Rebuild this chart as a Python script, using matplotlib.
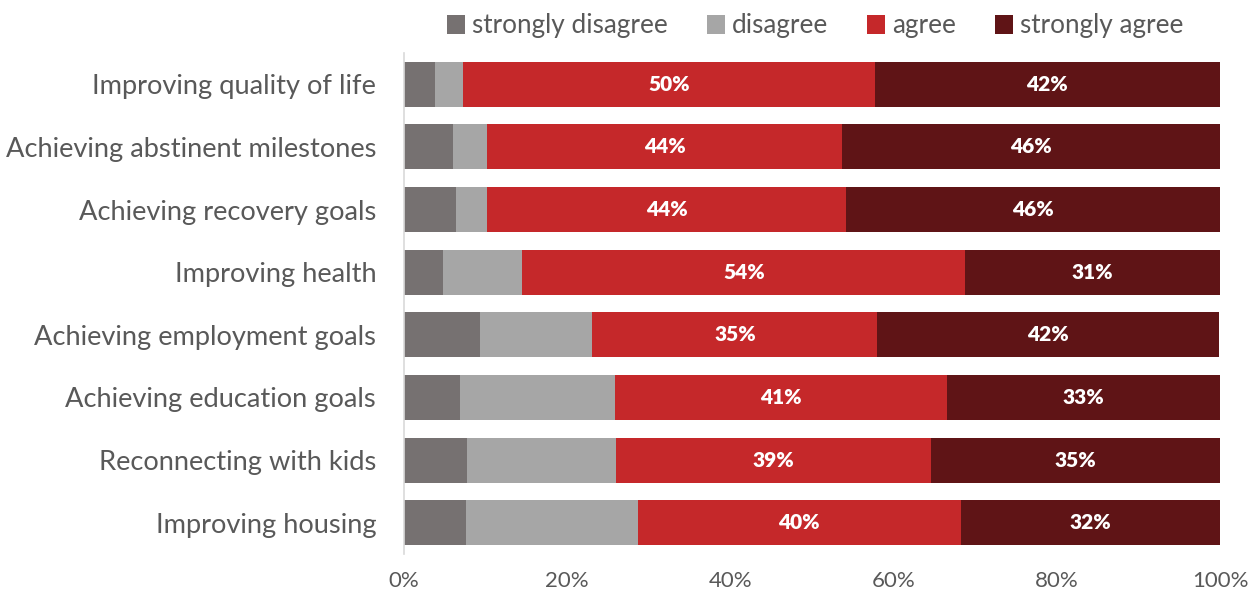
import matplotlib
matplotlib.use("Agg")
import matplotlib.pyplot as plt
import numpy as np

categories = ["Improving quality of life", "Achieving abstinent milestones",
              "Achieving recovery goals", "Improving health",
              "Achieving employment goals", "Achieving education goals",
              "Reconnecting with kids", "Improving housing"]
series_names = ["strongly disagree", "disagree", "agree", "strongly agree"]
strongly_disagree = [3.8, 6.0, 6.4, 4.8, 9.3, 6.9, 7.7, 7.6]
disagree = [3.4, 4.2, 3.8, 9.7, 13.8, 18.9, 18.3, 21.1]
agree = [50.5, 43.5, 44.0, 54.3, 34.9, 40.8, 38.6, 39.5]
strongly_agree = [42.3, 46.3, 45.8, 31.2, 41.9, 33.5, 35.4, 31.9]
agree_labels = ["50%", "44%", "44%", "54%", "35%", "41%", "39%", "40%"]
sa_labels = ["42%", "46%", "46%", "31%", "42%", "33%", "35%", "32%"]
tick_labels = ["0%", "20%", "40%", "60%", "80%", "100%"]

colors = ["#767171", "#A6A6A6", "#C5282A", "#5F1416"]
text_color = "#595959"
plt.rcParams['font.family'] = ['Lato', 'DejaVu Sans']

fig = plt.figure(figsize=(12.49, 5.94), dpi=100)
ax = fig.add_axes([404/1249, 1-554/594, (1220-404)/1249, (554-53)/594])

y = np.arange(len(categories))
data = [strongly_disagree, disagree, agree, strongly_agree]
left = np.zeros(len(categories))
bars = []
for vals, c, name in zip(data, colors, series_names):
    b = ax.barh(y, vals, left=left, color=c, height=0.72, label=name)
    bars.append(b)
    left = left + np.array(vals)

ax.bar_label(bars[2], labels=agree_labels, label_type='center', color='white',
             fontsize=15, fontweight='heavy')
ax.bar_label(bars[3], labels=sa_labels, label_type='center', color='white',
             fontsize=15, fontweight='heavy')

ax.set_xlim(0, 100)
ax.set_ylim(len(categories) - 0.5, -0.5)
ax.set_yticks(y)
ax.set_yticklabels(categories, fontsize=19.6, color=text_color)
ax.set_xticks([0, 20, 40, 60, 80, 100])
ax.set_xticklabels(tick_labels, fontsize=16, color=text_color)
ax.tick_params(axis='both', length=0)
ax.tick_params(axis='y', pad=20)
ax.tick_params(axis='x', pad=12)
for s in ['top', 'right', 'bottom']:
    ax.spines[s].set_visible(False)
ax.spines['left'].set_color('#D9D9D9')
ax.spines['left'].set_linewidth(1.2)

leg = fig.legend(loc='center', bbox_to_anchor=(815/1249, 1-26/594), ncol=4,
                 frameon=False, fontsize=18.8, handlelength=0.7, handleheight=0.75,
                 handletextpad=0.25, columnspacing=1.5)
for t in leg.get_texts():
    t.set_color(text_color)

fig.savefig("out.png", dpi=100)
